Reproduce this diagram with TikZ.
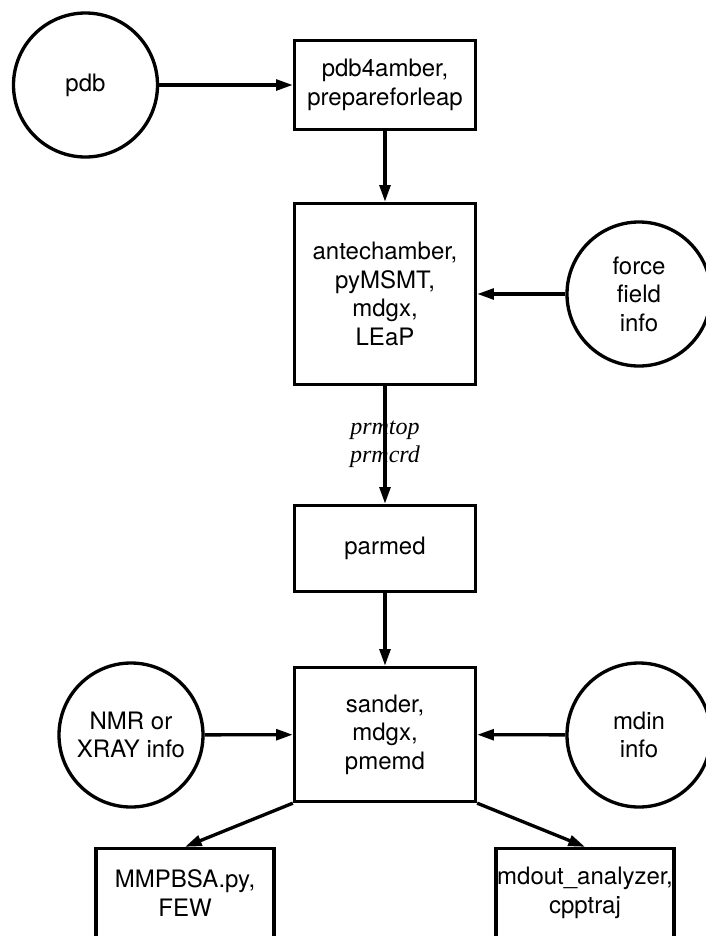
\documentclass[tikz,border=0pt]{standalone}
\usepackage{fontspec}
\setmainfont{TeX Gyre Heros}
\newfontfamily\timesf{Liberation Serif}
\usetikzlibrary{arrows.meta}
\begin{document}
\begin{tikzpicture}[x=0.75pt,y=-0.75pt,
  every node/.style={font=\fontsize{18}{21.4}\selectfont, align=center, inner sep=0pt},
  proc/.style={draw, line width=2.5pt, minimum width=135.75pt},
  src/.style={draw, circle, line width=2.5pt, minimum size=108pt},
  flow/.style={line width=2.5pt, -{Triangle[length=12.5pt,width=8pt]}}]
\useasboundingbox (0,0) rectangle (706,936);
\clip (0,0) rectangle (706,936);
% sources
\node[src] (pdb) at (85.5,85) {pdb};
\node[src] (ff) at (639,294) {force\\field\\info};
\node[src] (nmr) at (131,735) {NMR or\\XRAY info};
\node[src] (mdin) at (639,735) {mdin\\info};
% processes
\node[proc, minimum height=66.75pt] (b1) at (385,85) {pdb4amber,\\prepareforleap};
\node[proc, minimum height=135.75pt] (b2) at (385,294) {antechamber,\\pyMSMT,\\mdgx,\\LEaP};
\node[proc, minimum height=64.5pt] (b3) at (385,548.5) {parmed};
\node[proc, minimum height=100.5pt] (b4) at (385,734.5) {sander,\\mdgx,\\pmemd};
\node[proc, minimum height=66.75pt, minimum width=133.5pt] (b5) at (185,893) {MMPBSA.py,\\FEW};
\node[proc, minimum height=66.75pt, minimum width=133.5pt] (b6) at (585,893) {mdout\_analyzer,\\cpptraj};
% label
\node[font=\fontsize{18}{21}\timesf\itshape] (lbl) at (385,444) {prmtop\\prmcrd};
% connectors
\draw[flow] (pdb) -- (b1);
\draw[flow] (b1) -- (b2);
\draw[flow] (ff) -- (b2);
\draw[flow] (b2) -- (b3);
\draw[flow] (b3) -- (b4);
\draw[flow] (nmr) -- (b4);
\draw[flow] (mdin) -- (b4);
\draw[flow] (b4.south west) -- (b5.north);
\draw[flow] (b4.south east) -- (b6.north);
\end{tikzpicture}
\end{document}
